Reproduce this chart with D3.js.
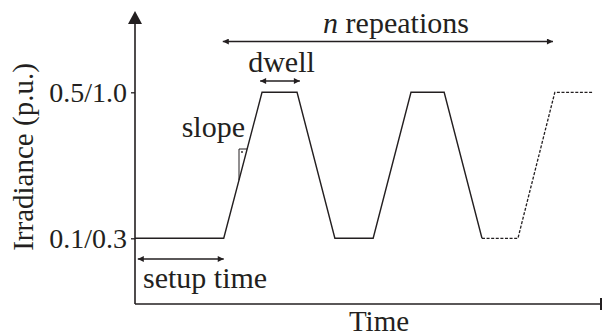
<!DOCTYPE html>
<html>
<head>
<meta charset="utf-8">
<script src="https://cdn.jsdelivr.net/npm/d3@7"></script>
<style>
  body { margin: 0; background: #fff; }
  svg text { font-family: "Liberation Serif", serif; fill: #231f20; }
</style>
</head>
<body>
<div id="chart"></div>
<script>
// waveform breakpoints (time in arbitrary units, irradiance level)
let solidTime  = [0, 19, 27.2, 34.7, 42.8, 51, 59.1, 66.2, 74.3];
let solidLevel = [0.1, 0.1, 0.5, 0.5, 0.1, 0.1, 0.5, 0.5, 0.1];
let dashTime   = [74.3, 82, 89.9, 98.1];
let dashLevel  = [0.1, 0.1, 0.5, 0.5];

let tickValues = [0.1, 0.5];
let tickLabels = ["0.1/0.3", "0.5/1.0"];

// annotation spans in time units
let setupSpan  = [0.6, 19];
let dwellSpan  = [26.8, 35.3];
let repeatSpan = [18.8, 89.5];

let width = 603, height = 336;
let ink = "#231f20";
let serif = "Liberation Serif";

let svg = d3.select("#chart").append("svg")
    .attr("width", width)
    .attr("height", height)
    .attr("font-family", serif);

let x = d3.scaleLinear().domain([0, 100]).range([135, 602]);
let y = d3.scaleLinear().domain([-0.08, 0.72]).range([304, 12]);

// arrow heads
let defs = svg.append("defs");
defs.append("marker")
    .attr("id", "head")
    .attr("viewBox", "0 0 10 10")
    .attr("refX", 10).attr("refY", 5)
    .attr("markerWidth", 8).attr("markerHeight", 6)
    .attr("markerUnits", "userSpaceOnUse")
    .attr("orient", "auto-start-reverse")
    .append("path")
    .attr("d", "M0,0 L10,5 L0,10 Z")
    .attr("fill", ink);

// y axis with arrow
let yAxis = d3.axisLeft(y)
    .tickValues(tickValues)
    .tickFormat((d, i) => tickLabels[i])
    .tickSize(4)
    .tickPadding(4);

let yg = svg.append("g")
    .attr("transform", "translate(" + x(0) + ",0)")
    .call(yAxis)
    .attr("font-family", serif);
yg.select(".domain").remove();
yg.selectAll(".tick line").attr("stroke", ink).attr("stroke-width", 1.3);
yg.selectAll(".tick text")
    .attr("font-size", 28)
    .attr("font-family", serif)
    .attr("fill", ink)
    .attr("dy", "0.34em");

svg.append("line")
    .attr("x1", x(0)).attr("x2", x(0))
    .attr("y1", y.range()[0]).attr("y2", 22)
    .attr("stroke", ink).attr("stroke-width", 1.6);
svg.append("path")
    .attr("d", "M" + x(0) + ",11 L" + (x(0) - 7) + ",24 L" + (x(0) + 7) + ",24 Z")
    .attr("fill", ink);

// x axis with end bar
svg.append("line")
    .attr("x1", x(0)).attr("x2", x(100))
    .attr("y1", y.range()[0]).attr("y2", y.range()[0])
    .attr("stroke", ink).attr("stroke-width", 1.6);
svg.append("line")
    .attr("x1", x(100) - 1).attr("x2", x(100) - 1)
    .attr("y1", y.range()[0] - 6).attr("y2", y.range()[0] + 6)
    .attr("stroke", ink).attr("stroke-width", 2);

// helper for all labels
function label(tx, ty, str, size, anchor) {
    return svg.append("text")
        .attr("x", tx).attr("y", ty)
        .attr("text-anchor", anchor)
        .attr("font-family", serif)
        .attr("font-size", size)
        .attr("fill", ink)
        .text(str);
}

// axis titles
label(379, 331, "Time", 29, "middle");
label(0, 0, "Irradiance (p.u.)", 29, "middle")
    .attr("transform", "translate(33,157) rotate(-90)");

// waveform
let line = d3.line()
    .x(d => x(d[0]))
    .y(d => y(d[1]));

svg.append("path")
    .datum(solidTime.map((t, i) => [t, solidLevel[i]]))
    .attr("d", line)
    .attr("fill", "none")
    .attr("stroke", ink)
    .attr("stroke-width", 1.4)
    .attr("stroke-linejoin", "miter");

svg.append("path")
    .datum(dashTime.map((t, i) => [t, dashLevel[i]]))
    .attr("d", line)
    .attr("fill", "none")
    .attr("stroke", ink)
    .attr("stroke-width", 1.3)
    .attr("stroke-dasharray", "3,1.6");

// double arrows
function dblArrow(span, yy) {
    svg.append("line")
        .attr("x1", x(span[0])).attr("x2", x(span[1]))
        .attr("y1", yy).attr("y2", yy)
        .attr("stroke", ink).attr("stroke-width", 1.3)
        .attr("marker-start", "url(#head)")
        .attr("marker-end", "url(#head)");
}
dblArrow(repeatSpan, 41.5);
dblArrow(dwellSpan, 81);
dblArrow(setupSpan, 259);

// annotation texts
let rep = label(396, 33, "", 30, "middle");
rep.append("tspan").attr("font-style", "italic").text("n");
rep.append("tspan").text(" repeations");

label(281.5, 72, "dwell", 30, "middle");
label(245, 137, "slope", 30, "end");
label(143, 288, "setup time", 30, "start");

// slope marker: small right triangle on the rising edge
let r0 = [solidTime[1], solidLevel[1]], r1 = [solidTime[2], solidLevel[2]];
let slopeAt = py => x(r0[0]) + (x(r1[0]) - x(r0[0])) * (y(r0[1]) - py) / (y(r0[1]) - y(r1[1]));
let mx = 239, my = 149;
let xOnEdge = slopeAt(my);
let yOnEdge = y(r0[1]) - (mx - x(r0[0])) / (x(r1[0]) - x(r0[0])) * (y(r0[1]) - y(r1[1]));
svg.append("path")
    .attr("d", "M" + xOnEdge + "," + my + " L" + mx + "," + my + " L" + mx + "," + yOnEdge)
    .attr("fill", "none")
    .attr("stroke", ink)
    .attr("stroke-width", 1);
svg.append("circle")
    .attr("cx", mx + 3).attr("cy", my + 3)
    .attr("r", 0.9)
    .attr("fill", ink);
</script>
</body>
</html>
